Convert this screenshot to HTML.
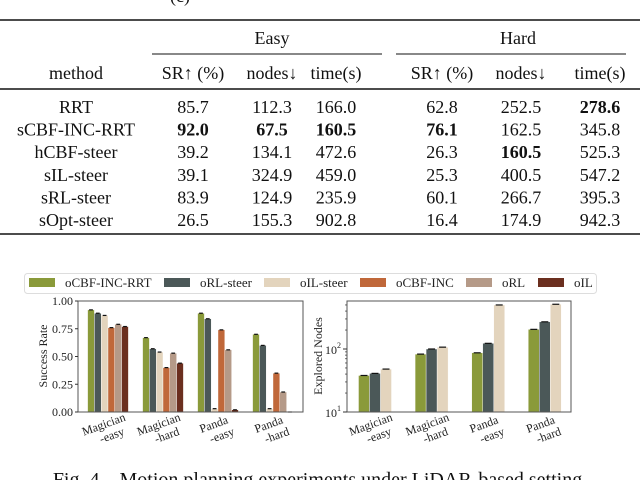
<!DOCTYPE html>
<html><head><meta charset="utf-8"><style>
body{margin:0;background:#fff}
svg{display:block;font-family:"Liberation Serif",serif}
</style></head><body>
<svg width="640" height="480" viewBox="0 0 640 480">
<g font-size="18" text-anchor="middle" fill="#111">
<text x="180" y="2">(c)</text>
<line x1="0" x2="640" y1="20" y2="20" stroke="#111" stroke-width="1.6"/>
<text x="272" y="44">Easy</text>
<text x="518" y="44">Hard</text>
<line x1="152" x2="382" y1="54" y2="54" stroke="#111" stroke-width="1"/>
<line x1="396" x2="626" y1="54" y2="54" stroke="#111" stroke-width="1"/>
<g>
<text x="76" y="79">method</text><text x="193" y="79">SR↑ (%)</text><text x="272" y="79">nodes↓</text><text x="336" y="79">time(s)</text>
<text x="442" y="79">SR↑ (%)</text><text x="521" y="79">nodes↓</text><text x="600" y="79">time(s)</text>
</g>
<line x1="0" x2="640" y1="89" y2="89" stroke="#111" stroke-width="1.4"/>
<g id="rows"></g>
<line x1="0" x2="640" y1="234" y2="234" stroke="#111" stroke-width="1.6"/>
</g>
<g id="legend"></g>
<g id="left"></g>
<g id="right"></g>
<text x="320" y="486" font-size="20" text-anchor="middle" fill="#111">Fig. 4.&#160;&#160;&#160;Motion planning experiments under LiDAR-based setting.</text>
</svg>
<script>
const NS="http://www.w3.org/2000/svg";
function mk(p,t,a,txt){const e=document.createElementNS(NS,t);for(const k in a)e.setAttribute(k,a[k]);if(txt!==undefined)e.textContent=txt;p.appendChild(e);return e;}
// table
const methods=["RRT","sCBF-INC-RRT","hCBF-steer","sIL-steer","sRL-steer","sOpt-steer"];
const tableVals=[["85.7","112.3","166.0","62.8","252.5","278.6"],["92.0","67.5","160.5","76.1","162.5","345.8"],["39.2","134.1","472.6","26.3","160.5","525.3"],["39.1","324.9","459.0","25.3","400.5","547.2"],["83.9","124.9","235.9","60.1","266.7","395.3"],["26.5","155.3","902.8","16.4","174.9","942.3"]];
const boldCells=[[0,5],[1,0],[1,1],[1,2],[1,3],[2,4]];
const colX=[193,272,336,442,521,600];
const rows=document.getElementById('rows');
methods.forEach((m,i)=>{const y=113+i*22.6;
 const t=mk(rows,'text',{x:76,y:y},m);
 
 
 tableVals[i].forEach((v,j)=>{const b=boldCells.some(c=>c[0]==i&&c[1]==j);
  const c=mk(rows,'text',{x:colX[j],y:y,'font-weight':b?'bold':'normal'},v);
  
  });});
// charts data
const groups=["Magician\n-easy","Magician\n-hard","Panda\n-easy","Panda\n-hard"];
const seriesNames=["oCBF-INC-RRT","oRL-steer","oIL-steer","oCBF-INC","oRL","oIL"];
const colors=["#8a9a3a","#4b5858","#e3d4bd","#c0683a","#b59a88","#6b2f1f"];
const srCBFINCRRT=[0.92,0.67,0.89,0.70];
const srRLsteer=[0.89,0.57,0.84,0.60];
const srILsteer=[0.87,0.54,0.03,0.03];
const srCBFINC=[0.76,0.40,0.74,0.35];
const srRL=[0.79,0.53,0.56,0.18];
const srIL=[0.77,0.44,0.02,0.00];
const nodesCBFINCRRT=[38,83,87,205];
const nodesRLsteer=[41,100,123,270];
const nodesILsteer=[48,107,500,513];
const srTicks=["0.00","0.25","0.50","0.75","1.00"];
// legend
const lg=document.getElementById('legend');
mk(lg,'rect',{x:24.5,y:273.5,width:572,height:20,rx:3,fill:'#fff',stroke:'#ddd'});
const lgPos=[29,164,264,360,466,538];
seriesNames.forEach((n,i)=>{const x=lgPos[i];
 const r=mk(lg,'rect',{x:x,y:278,width:26,height:9,fill:colors[i]});
 
 
 const t=mk(lg,'text',{x:x+36,y:287,'font-size':13,fill:'#222'},n);
 
 });
// left chart
const L=document.getElementById('left');
const lx0=78,lx1=303,ly0=412,ly1=301;
const ly=v=>ly0-(ly0-ly1)*v;
const lgx=i=>lx0+30+55*i;
const srSeries=[srCBFINCRRT,srRLsteer,srILsteer,srCBFINC,srRL,srIL];
const bw=6.8;
srSeries.forEach((s,k)=>s.forEach((v,i)=>{const x=lgx(i)+(k-2.5)*bw-bw/2;
 const b=mk(L,'rect',{x:x,y:ly(v),width:bw,height:ly0-ly(v),fill:colors[k],stroke:'#fff','stroke-width':0.4});
 
 
 mk(L,'line',{x1:x+1.5,x2:x+bw-1.5,y1:ly(v),y2:ly(v),stroke:'#111','stroke-width':1.2});}));
mk(L,'rect',{x:lx0,y:ly1,width:lx1-lx0,height:ly0-ly1,fill:'none',stroke:'#555','stroke-width':1});
srTicks.forEach(t=>{const y=ly(parseFloat(t));
 mk(L,'line',{x1:lx0-3,x2:lx0,y1:y,y2:y,stroke:'#333'});
 const e=mk(L,'text',{x:lx0-5,y:y+4,'font-size':12,'text-anchor':'end',fill:'#222'},t);
 
 });
const yt=mk(L,'text',{x:0,y:0,'font-size':12,'text-anchor':'middle',fill:'#222',transform:`translate(47,356) rotate(-90)`},"Success Rate");


function xlabels(P,gx){groups.forEach((g,i)=>{const [a,b]=g.split("\n");
 const t=mk(P,'text',{'font-size':12,'text-anchor':'middle',fill:'#222',transform:`translate(${gx(i)-3},${428}) rotate(-20)`});
 
 
 mk(t,'tspan',{x:0,y:0},a);mk(t,'tspan',{x:4,y:13},b);});}
xlabels(L,lgx);
// right chart
const R=document.getElementById('right');
const rx0=347,rx1=571,ry0=412,dec=63;
const ry=v=>ry0-dec*(Math.log10(v)-1);
const rgx=i=>rx0+28+56.6*i;
const nodeSeries=[nodesCBFINCRRT,nodesRLsteer,nodesILsteer];
const rbw=11;
nodeSeries.forEach((s,k)=>s.forEach((v,i)=>{const x=rgx(i)+(k-1)*rbw-rbw/2;
 const b=mk(R,'rect',{x:x,y:ry(v),width:rbw,height:ry0-ry(v),fill:colors[k],stroke:'#fff','stroke-width':0.4});
 
 
 mk(R,'line',{x1:x+2,x2:x+rbw-2,y1:ry(v),y2:ry(v),stroke:'#111','stroke-width':1.2});}));
mk(R,'rect',{x:rx0,y:301,width:rx1-rx0,height:ry0-301,fill:'none',stroke:'#555','stroke-width':1});
[1,2].forEach(p=>{const y=ry(Math.pow(10,p));
 mk(R,'line',{x1:rx0-4,x2:rx0,y1:y,y2:y,stroke:'#333'});
 const t=mk(R,'text',{x:rx0-6,y:y+5,'font-size':12,'text-anchor':'end',fill:'#222'});
 
 
 mk(t,'tspan',{},"10");mk(t,'tspan',{'font-size':8,dy:-6},String(p));});
[20,30,40,50,60,70,80,90,200,300,400,500].forEach(v=>{const y=ry(v);if(y<301||y>ry0)return;
 mk(R,'line',{x1:rx0-2,x2:rx0,y1:y,y2:y,stroke:'#333','stroke-width':0.7});});
const yt2=mk(R,'text',{x:0,y:0,'font-size':12,'text-anchor':'middle',fill:'#222',transform:`translate(322,356) rotate(-90)`},"Explored Nodes");


xlabels(R,rgx);
</script>
</body></html>
